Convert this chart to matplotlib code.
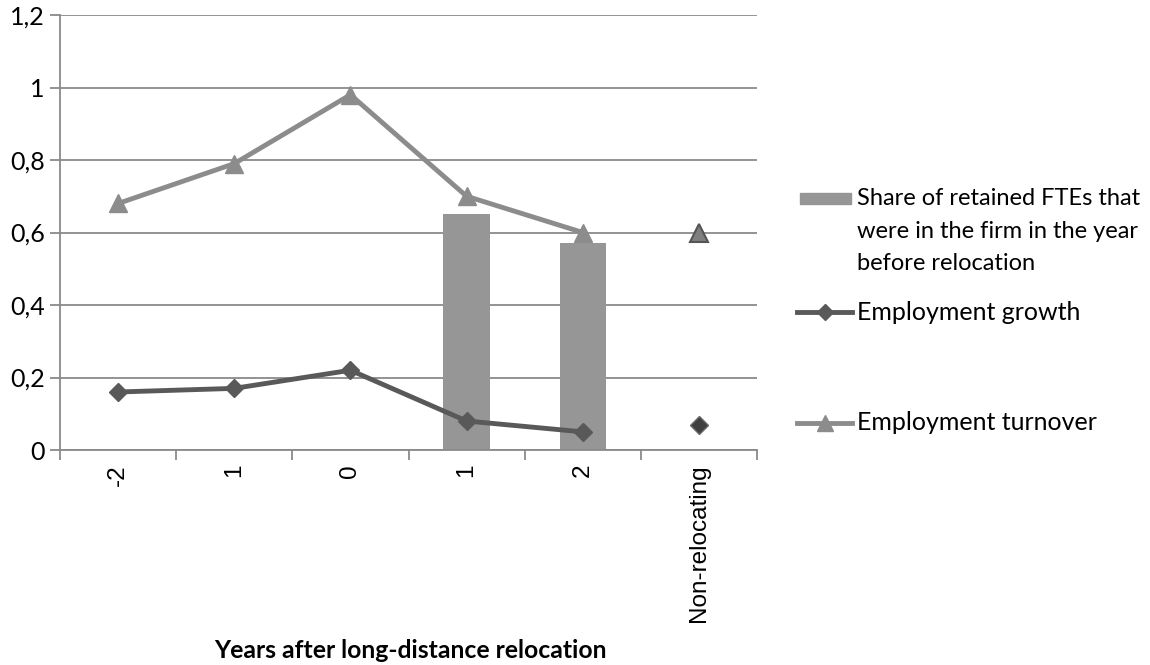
import numpy as np
import matplotlib
matplotlib.use("Agg")
import matplotlib.pyplot as plt
from matplotlib.lines import Line2D
from matplotlib.patches import Rectangle

# chart data
categories = ["-2", "1", "0", "1", "2", "Non-relocating"]
turnover = [0.68, 0.79, 0.98, 0.70, 0.60, np.nan]
growth = [0.16, 0.17, 0.22, 0.08, 0.05, np.nan]
share_retained = [np.nan, np.nan, np.nan, 0.65, 0.57, np.nan]
nonreloc_turnover = 0.60
nonreloc_growth = 0.07
yticks = [0, 0.2, 0.4, 0.6, 0.8, 1.0, 1.2]
ytick_labels = ["0", "0,2", "0,4", "0,6", "0,8", "1", "1,2"]
legend_labels = [
    "Share of retained FTEs that\nwere in the firm in the year\nbefore relocation",
    "Employment growth",
    "Employment turnover",
]

W, H = 1150, 665
fig = plt.figure(figsize=(W / 100, H / 100), dpi=100)
ax = fig.add_axes([60 / W, 1 - 450 / H, 697 / W, 435 / H])

x = np.arange(len(categories))
ax.bar(x, share_retained, width=0.4, color="#969696", zorder=2)
ax.plot(x, turnover, color="#8c8c8c", lw=3.5, marker="^", ms=13,
        markerfacecolor="#8c8c8c", markeredgecolor="#8c8c8c", zorder=3)
ax.plot(x, growth, color="#595959", lw=3.5, marker="D", ms=9,
        markerfacecolor="#595959", markeredgecolor="#595959", zorder=4)
ax.plot([x[-1]], [nonreloc_turnover], ls="none", marker="^", ms=13,
        markerfacecolor="#7f7f7f", markeredgecolor="#555555", mew=1.5, zorder=3)
ax.plot([x[-1]], [nonreloc_growth], ls="none", marker="D", ms=9,
        markerfacecolor="#404040", markeredgecolor="#6a6a6a", mew=1, zorder=3)

ax.set_xlim(-0.5, len(categories) - 0.5)
ax.set_ylim(0, 1.2)
ax.set_yticks(yticks)
ax.set_yticklabels(ytick_labels, family="Lato", fontsize=18)
ax.yaxis.grid(True, color="#8a8a8a", lw=1.3)
ax.set_axisbelow(True)
ax.tick_params(axis="y", length=7, color="#8a8a8a", width=1.3, pad=4)

ax.set_xticks(x)
ax.set_xticklabels(categories, rotation=90, family="Liberation Sans", fontsize=17.5)
ax.set_xticks(np.arange(-0.5, len(categories)), minor=True)
ax.tick_params(axis="x", which="major", length=0, pad=10)
ax.tick_params(axis="x", which="minor", length=7, color="#8a8a8a", width=1.3)

for side in ["top", "right"]:
    ax.spines[side].set_visible(False)
for side in ["left", "bottom"]:
    ax.spines[side].set_color("#8a8a8a")
    ax.spines[side].set_linewidth(1.3)

fig.text(410 / W, 1 - 650 / H, "Years after long-distance relocation",
         ha="center", va="center", family="Lato", fontweight="bold", fontsize=17.8)

# legend drawn by hand so the handles sit right against the text
fig.patches.append(Rectangle((800 / W, 1 - 204 / H), 51 / W, 11 / H,
                             transform=fig.transFigure, color="#969696"))
fig.text(857 / W, 1 - 188 / H, legend_labels[0], ha="left", va="top",
         family="Lato", fontsize=17, linespacing=1.68)
for ypix, lab, col, mk, ms in [(312, legend_labels[1], "#595959", "D", 8),
                               (423, legend_labels[2], "#8c8c8c", "^", 11)]:
    fig.add_artist(Line2D([797 / W, 852 / W], [1 - ypix / H] * 2, color=col, lw=3.5,
                          transform=fig.transFigure))
    fig.add_artist(Line2D([825 / W], [1 - ypix / H], color=col, marker=mk, ms=ms,
                          transform=fig.transFigure))
    fig.text(857 / W, 1 - ypix / H, lab, ha="left", va="center",
             family="Lato", fontsize=18)

fig.savefig("out.png", dpi=100)
